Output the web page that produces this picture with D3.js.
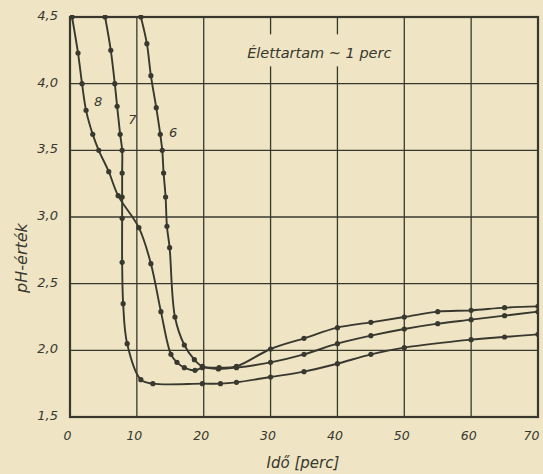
<!DOCTYPE html>
<html>
<head>
<meta charset="utf-8">
<script src="https://cdn.jsdelivr.net/npm/d3@7"></script>
<style>
  html, body { margin: 0; padding: 0; background: #efe5c4; }
  svg { display: block; }
  text { font-family: "DejaVu Sans", sans-serif; font-style: italic; fill: #38382f; }
</style>
</head>
<body>
<script>
// tick values (labels use decimal comma)
const xTicks = [0, 10, 20, 30, 40, 50, 60, 70]
const yTicks = [1.5, 2.0, 2.5, 3.0, 3.5, 4.0, 4.5]

// curve 8
const curve8X = [0.3, 1.2, 1.8, 2.4, 3.4, 4.3, 5.8, 7.2, 10.3, 12.1, 13.6, 15.1, 16.0, 17.1, 18.7, 19.8, 22.2, 24.9, 30, 35, 40, 45, 50, 55, 60, 65, 70]
const curve8Y = [4.5, 4.23, 4.0, 3.8, 3.62, 3.5, 3.34, 3.16, 2.92, 2.65, 2.29, 1.97, 1.91, 1.87, 1.85, 1.87, 1.86, 1.87, 1.91, 1.97, 2.05, 2.11, 2.16, 2.2, 2.23, 2.26, 2.29]
// curve 7
const curve7X = [5.25, 6.1, 6.7, 7.05, 7.5, 7.8, 7.8, 7.8, 7.8, 7.8, 7.95, 8.55, 10.6, 12.4, 19.8, 22.5, 24.9, 30, 35, 40, 45, 50, 60, 65, 70]
const curve7Y = [4.5, 4.25, 4.0, 3.83, 3.62, 3.5, 3.33, 3.15, 2.99, 2.66, 2.35, 2.05, 1.78, 1.75, 1.75, 1.75, 1.76, 1.8, 1.84, 1.9, 1.97, 2.02, 2.08, 2.1, 2.12]
// curve 6
const curve6X = [10.6, 11.5, 12.1, 12.9, 13.5, 13.8, 14.0, 14.3, 14.5, 14.9, 15.7, 17.1, 18.6, 19.8, 22.3, 24.9, 30, 35, 40, 45, 50, 55, 60, 65, 70]
const curve6Y = [4.5, 4.3, 4.06, 3.82, 3.62, 3.5, 3.33, 3.15, 2.93, 2.77, 2.25, 2.04, 1.93, 1.88, 1.87, 1.88, 2.01, 2.09, 2.17, 2.21, 2.25, 2.29, 2.3, 2.32, 2.33]

const curveNames = ["8", "7", "6"]
const curveXs = [curve8X, curve7X, curve6X]
const curveYs = [curve8Y, curve7Y, curve6Y]
// where the hand-written curve numbers sit (data coords)
const labelX = [3.6, 8.7, 14.8]
const labelY = [3.83, 3.7, 3.6]

const title = "Élettartam ~ 1 perc"
const xTitle = "Idő [perc]"
const yTitle = "pH-érték"

const width = 543
const height = 474
const ink = "#38382f"

const x = d3.scaleLinear().domain([0, 70]).range([70, 538])
const y = d3.scaleLinear().domain([1.5, 4.5]).range([417, 17])

const svg = d3.select("body").append("svg")
    .attr("width", width)
    .attr("height", height)

svg.append("rect").attr("width", width).attr("height", height).attr("fill", "#efe5c4")

svg.append("defs").append("clipPath").attr("id", "plot")
    .append("rect")
    .attr("x", x(0)).attr("y", y(4.5) - 2)
    .attr("width", x(70) - x(0)).attr("height", y(1.5) - y(4.5) + 2)

// grid
const grid = svg.append("g").attr("stroke", ink).attr("stroke-width", 1.3)
grid.selectAll("line.v").data(xTicks.slice(1, -1)).enter().append("line")
    .attr("class", "v")
    .attr("x1", d => x(d)).attr("x2", d => x(d))
    .attr("y1", y(4.5)).attr("y2", y(1.5))
grid.selectAll("line.h").data(yTicks.slice(1, -1)).enter().append("line")
    .attr("class", "h")
    .attr("x1", x(0)).attr("x2", x(70))
    .attr("y1", d => y(d)).attr("y2", d => y(d))

// blank patch behind the title
svg.append("rect")
    .attr("x", x(25.5)).attr("y", y(4.37))
    .attr("width", x(48) - x(25.5)).attr("height", y(4.13) - y(4.37))
    .attr("fill", "#efe5c4")

// frame
svg.append("rect")
    .attr("x", x(0)).attr("y", y(4.5))
    .attr("width", x(70) - x(0)).attr("height", y(1.5) - y(4.5))
    .attr("fill", "none").attr("stroke", ink).attr("stroke-width", 2.2)

// axes (labels only, the frame is drawn above)
const xAxis = svg.append("g")
    .attr("transform", `translate(0, ${y(1.5)})`)
    .call(d3.axisBottom(x).tickValues(xTicks).tickSize(0).tickPadding(14)
        .tickFormat(d3.format("d")))
xAxis.select(".domain").remove()
xAxis.selectAll("text").attr("font-size", 12.5).attr("font-family", null).attr("fill", ink)
    .attr("dx", d => d == 70 ? -7 : -3)

const yAxis = svg.append("g")
    .attr("transform", `translate(${x(0)}, 0)`)
    .call(d3.axisLeft(y).tickValues(yTicks).tickSize(0).tickPadding(12)
        .tickFormat(d => d3.format(".1f")(d).replace(".", ",")))
yAxis.select(".domain").remove()
yAxis.selectAll("text").attr("font-size", 13).attr("font-family", null).attr("fill", ink)
    .attr("dy", "0.2em")

// curves
const line = d3.line()
    .x(d => x(d[0]))
    .y(d => y(d[1]))
    .curve(d3.curveCatmullRom.alpha(0.5))

const curves = svg.append("g").attr("clip-path", "url(#plot)")
curveNames.forEach((name, i) => {
    const pts = curveXs[i].map((v, j) => [v, curveYs[i][j]])
    curves.append("path")
        .datum(pts)
        .attr("d", line)
        .attr("fill", "none")
        .attr("stroke", ink)
        .attr("stroke-width", 1.9)
    curves.selectAll("circle.c" + name).data(pts).enter().append("circle")
        .attr("class", "c" + name)
        .attr("cx", d => x(d[0]))
        .attr("cy", d => y(d[1]))
        .attr("r", 2.6)
        .attr("fill", ink)
    svg.append("text")
        .attr("x", x(labelX[i])).attr("y", y(labelY[i]))
        .attr("font-size", 13)
        .text(name)
})

// titles
svg.append("text")
    .attr("x", x(26.5)).attr("y", y(4.19))
    .attr("font-size", 14.5)
    .text(title)

svg.append("text")
    .attr("x", (x(0) + x(70)) / 2 - 1).attr("y", 468)
    .attr("text-anchor", "middle")
    .attr("font-size", 15)
    .text(xTitle)

svg.append("text")
    .attr("transform", `translate(27, 258) rotate(-90)`)
    .attr("text-anchor", "middle")
    .attr("font-size", 16)
    .text(yTitle)
</script>
</body>
</html>
